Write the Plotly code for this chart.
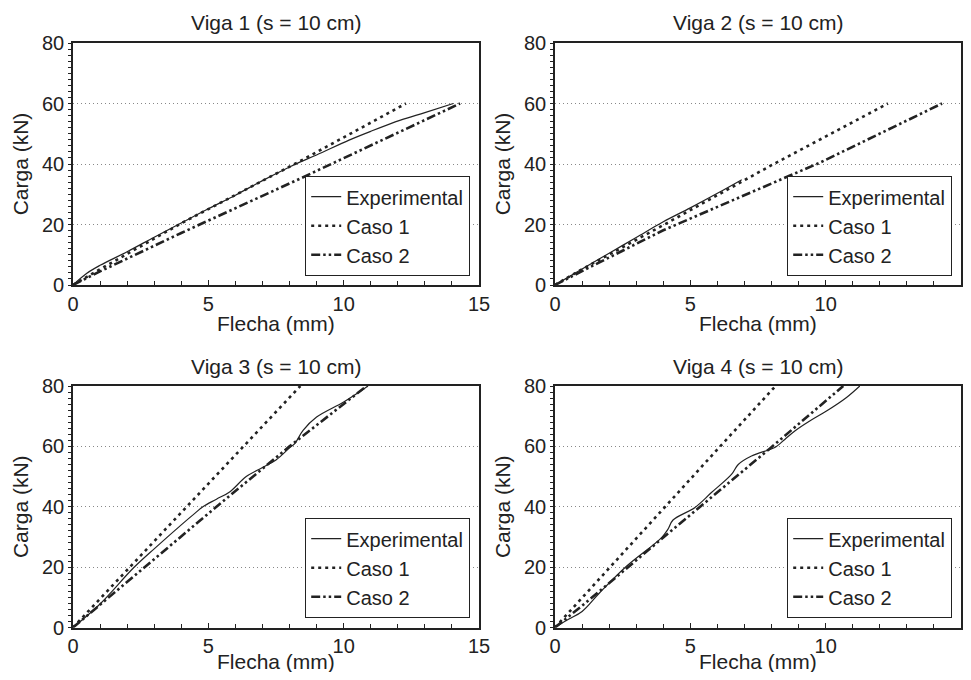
import plotly.graph_objects as go

# ---------------- data ----------------
titles = ["Viga 1 (s = 10 cm)", "Viga 2 (s = 10 cm)", "Viga 3 (s = 10 cm)", "Viga 4 (s = 10 cm)"]
series_names = ["Experimental", "Caso 1", "Caso 2"]

# Viga 1
v1_exp_x = [0, 0.5, 1, 2, 3, 4, 5, 6, 7, 8, 8.4, 9, 10.2, 11, 12.1, 13, 14.05]
v1_exp_y = [0, 3.8, 6.5, 11, 15.8, 20.5, 25.2, 29.7, 34.5, 39, 40.7, 43, 47.9, 50.8, 54.5, 57, 60]
v1_c1_x = [0, 1, 4, 8.4, 12.3]
v1_c1_y = [0, 5.2, 20.4, 41, 60]
v1_c2_x = [0, 1, 4, 8.4, 14.3]
v1_c2_y = [0, 4.5, 17.2, 35.2, 60]

# Viga 2
v2_exp_x = [0, 1, 2, 3, 4, 5, 6, 6.9]
v2_exp_y = [0, 5.3, 10.5, 15.7, 20.9, 25.5, 30.3, 34.8]
v2_c1_x = [0, 1, 4, 8, 12.3]
v2_c1_y = [0, 5.2, 19.8, 39.6, 60]
v2_c2_x = [0, 1, 4, 8, 9.8, 14.3]
v2_c2_y = [0, 4.6, 18.1, 33.6, 40.5, 60]

# Viga 3
v3_exp_x = [0, 1, 2.23, 3.03, 4, 4.5, 4.8, 5.3, 5.8, 6.4, 7, 7.5, 8, 8.2, 8.5, 9, 10, 10.9]
v3_exp_y = [0, 7.8, 19.7, 26.3, 34, 37.8, 40, 42.5, 45, 50, 53, 55.5, 59.5, 61, 65.3, 69.7, 74.7, 80]
v3_c1_x = [0, 4.2, 8.4]
v3_c1_y = [0, 40, 80]
v3_c2_x = [0, 5.3, 8.0, 10.85]
v3_c2_y = [0, 40, 60, 80]

# Viga 4
v4_exp_x = [0, 0.5, 1, 1.65, 2.64, 3.93, 4.17, 4.36, 5.16, 5.78, 6.52, 6.77, 7.26, 7.88, 8.12, 8.49, 8.86, 9.41, 10.03, 10.77, 11.26]
v4_exp_y = [0, 2.7, 5.3, 11.5, 20.3, 29.7, 32.5, 35.6, 39.7, 44.7, 50.7, 54, 56.8, 58.8, 59.6, 62.3, 65.1, 68.4, 71.7, 76.2, 80]
v4_c1_x = [0, 2, 4, 6, 8.15]
v4_c1_y = [0, 19.5, 39.3, 59, 80]
v4_c2_x = [0, 1, 4.2, 7.9, 10.65]
v4_c2_y = [0, 7.2, 31.3, 59, 80]

panels = [
    (v1_exp_x, v1_exp_y, v1_c1_x, v1_c1_y, v1_c2_x, v1_c2_y),
    (v2_exp_x, v2_exp_y, v2_c1_x, v2_c1_y, v2_c2_x, v2_c2_y),
    (v3_exp_x, v3_exp_y, v3_c1_x, v3_c1_y, v3_c2_x, v3_c2_y),
    (v4_exp_x, v4_exp_y, v4_c1_x, v4_c1_y, v4_c2_x, v4_c2_y),
]

x_range = [0, 15]
y_range = [0, 80]
x_tickvals = [0, 5, 10, 15]
y_tickvals = [0, 20, 40, 60, 80]
x_label = "Flecha (mm)"
y_label = "Carga (kN)"

# ---------------- layout ----------------
OFF = 8  # page body margin
W, H = 971 - 2 * OFF, 680 - 2 * OFF
FONT = "Liberation Sans, Arial, Helvetica, sans-serif"
INK = "#222222"

# plot areas in window pixels (left, right, top, bottom)
boxes = [
    (73, 479, 43, 285),
    (555, 961, 43, 285),
    (73, 479, 386, 627.5),
    (555, 961, 386, 627.5),
]
legend_pos = [(470, 276), (952, 276), (470, 618), (952, 618)]
xtitle_y = [324, 324, 661, 661]

styles = [
    dict(color=INK, width=1.2, dash="solid"),
    dict(color=INK, width=2.6, dash="3px,4px"),
    dict(color=INK, width=2.6, dash="9px,3px,2.5px,3px,2.5px,3px"),
]

fig = go.Figure()
layout = dict(
    width=W, height=H,
    margin=dict(l=0, r=0, t=0, b=0),
    paper_bgcolor="white", plot_bgcolor="white",
    font=dict(family=FONT, color=INK, size=20),
    annotations=[],
)


def px(xp):
    return (xp - OFF) / W


def py(yp):
    return 1 - (yp - OFF) / H


for i, (box, data) in enumerate(zip(boxes, panels)):
    n = i + 1
    xa = "x" if n == 1 else f"x{n}"
    ya = "y" if n == 1 else f"y{n}"
    lg = "legend" if n == 1 else f"legend{n}"
    xs = [data[0], data[2], data[4]]
    ys = [data[1], data[3], data[5]]
    for k in range(3):
        fig.add_trace(go.Scatter(
            x=xs[k], y=ys[k], mode="lines", name=series_names[k],
            line=styles[k], xaxis=xa, yaxis=ya, legend=lg,
            line_shape="spline" if k == 0 else "linear",
        ))
    l, r, t, b = box
    xkey = "xaxis" if n == 1 else f"xaxis{n}"
    ykey = "yaxis" if n == 1 else f"yaxis{n}"
    layout[xkey] = dict(
        domain=[px(l), px(r)], anchor=ya, range=x_range,
        tickvals=x_tickvals, ticks="inside", ticklen=5, tickwidth=1.2, tickcolor=INK,
        minor=dict(dtick=1, ticks="inside", ticklen=4, tickwidth=1, tickcolor=INK, showgrid=False),
        showline=True, mirror=True, linecolor=INK, linewidth=1.6,
        showgrid=False, zeroline=False,
        tickfont=dict(size=20, color=INK),
        automargin=False,
    )
    layout[ykey] = dict(
        domain=[py(b), py(t)], anchor=xa, range=y_range,
        tickvals=y_tickvals, ticks="outside", ticklen=3, tickwidth=1.2, tickcolor=INK,
        minor=dict(dtick=2, ticks="outside", ticklen=3, tickwidth=1, tickcolor=INK, showgrid=False),
        showline=True, mirror=True, linecolor=INK, linewidth=1.6,
        showgrid=True, gridcolor="#888888", gridwidth=1, griddash="1px,3px",
        zeroline=False,
        tickfont=dict(size=20, color=INK),
        title=dict(text=y_label, font=dict(size=21, color=INK), standoff=8),
        automargin=False,
    )
    lx, ly = legend_pos[i]
    layout[lg] = dict(
        x=px(lx), y=py(ly), xanchor="right", yanchor="bottom",
        bgcolor="white", bordercolor=INK, borderwidth=1.2,
        font=dict(size=20, color=INK), tracegroupgap=0,
        itemwidth=30,
    )
    layout["annotations"].append(dict(
        text=titles[i], x=px((l + r) / 2), y=py(t - 20),
        xref="paper", yref="paper", xanchor="center", yanchor="middle",
        showarrow=False, font=dict(size=21, color=INK),
    ))
    layout["annotations"].append(dict(
        text=x_label, x=px((l + r) / 2), y=py(xtitle_y[i]),
        xref="paper", yref="paper", xanchor="center", yanchor="middle",
        showarrow=False, font=dict(size=21, color=INK),
    ))

fig.update_layout(**layout)
fig.write_html("out.html")
